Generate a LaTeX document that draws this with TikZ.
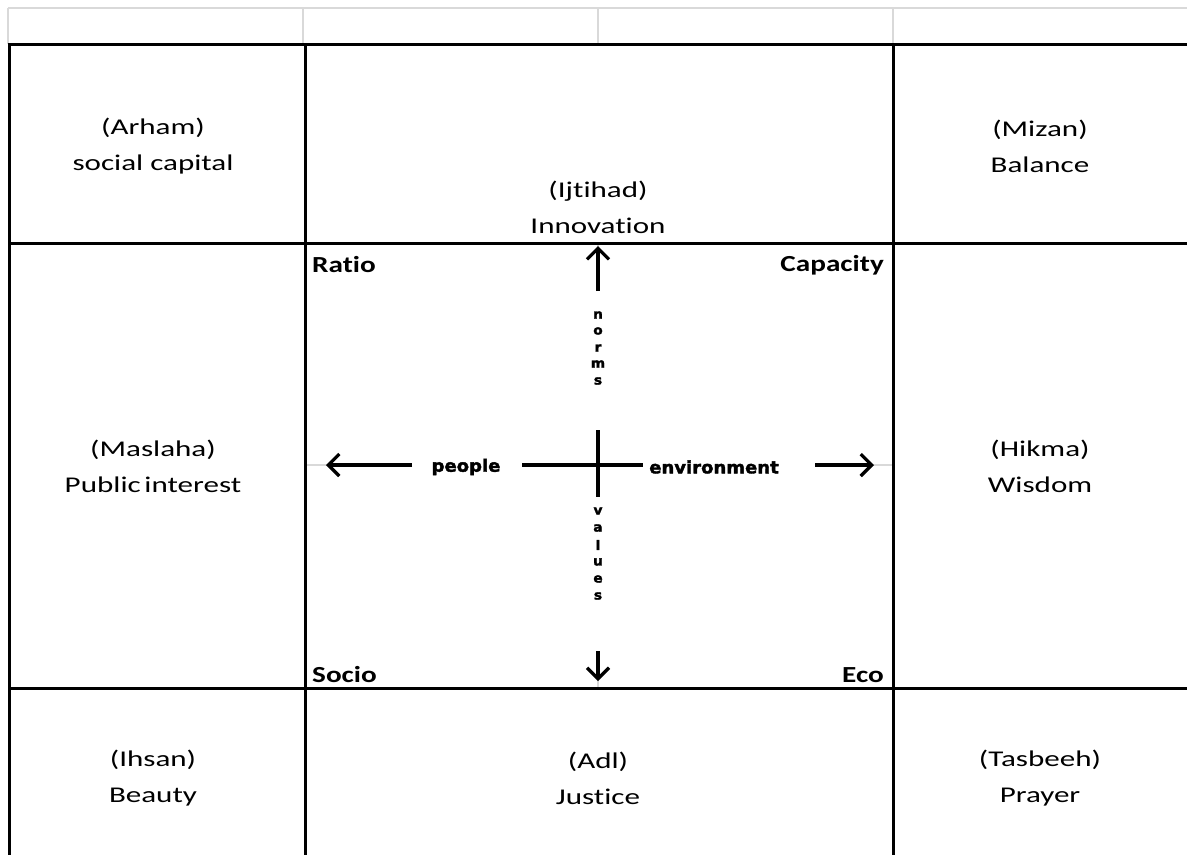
\documentclass[tikz,border=0pt]{standalone}
\usepackage{fontspec}
\setmainfont{Carlito}[FakeStretch=1.38,Ligatures=NoCommon]
\newfontfamily\cornerfont{Carlito}[FakeStretch=1.27,Ligatures=NoCommon]
\newfontfamily\axfont{DejaVu Sans}[UprightFont=* Bold,UprightFeatures={FakeBold=2.2},FakeStretch=1.06]
\usetikzlibrary{arrows.meta}
\begin{document}
\begin{tikzpicture}[x=1pt,y=-1pt,
  blackline/.style={draw=black,line width=3pt},
  grayline/.style={draw=black!15,line width=1.6pt},
  celltext/.style={font=\fontsize{22.5}{36}\selectfont,align=center,inner sep=0pt},
  cornertext/.style={font=\cornerfont\bfseries\fontsize{23}{28}\selectfont,inner sep=0pt},
  axtext/.style={font=\axfont\fontsize{17}{20}\selectfont,inner sep=0pt},
  lettertext/.style={font=\axfont\fontsize{13}{15}\selectfont,inner sep=0pt},
  axisarrow/.style={line width=3.4pt,-{Straight Barb[length=11pt,width=22pt,line width=3.2pt]}},
  axisline/.style={line width=3.4pt}]
\useasboundingbox (0,0) rectangle (1187,855);
\fill[white] (0,0) rectangle (1187,855);
% spreadsheet gridlines
\draw[grayline] (8,8) -- (1187,8);
\draw[grayline] (8,8) -- (8,44);
\draw[grayline] (303,8) -- (303,44);
\draw[grayline] (598,8) -- (598,44);
\draw[grayline] (893,8) -- (893,44);
\draw[grayline] (305,465) -- (332,465);
\draw[grayline] (868,465) -- (893,465);
\draw[grayline] (598,243) -- (598,252);
\draw[grayline] (598,676) -- (598,688);
% black table lines
\draw[blackline] (8,44) -- (1187,44);
\draw[blackline] (8,243) -- (1187,243);
\draw[blackline] (8,688) -- (1187,688);
\draw[blackline] (9,44) -- (9,855);
\draw[blackline] (305,44) -- (305,855);
\draw[blackline] (893,44) -- (893,855);
% cell texts
\node[celltext] (arham) at (153,146) {(Arham)\\social capital};
\node[celltext] (ijtihad) at (598,207) {(Ijtihad)\\Innovation};
\node[celltext] (mizan) at (1040,146) {(Mizan)\\Balance};
\node[celltext] (maslaha) at (153,466) {(Maslaha)\\Public\,interest};
\node[celltext] (hikma) at (1040,466) {(Hikma)\\Wisdom};
\node[celltext] (ihsan) at (153,778) {(Ihsan)\\Beauty};
\node[celltext] (adl) at (598,778) {(Adl)\\Justice};
\node[celltext] (tasbeeh) at (1040,778) {(Tasbeeh)\\Prayer};
% corner labels
\node[cornertext,anchor=west] (ratio) at (312,265) {Ratio};
\node[cornertext,anchor=east] (capacity) at (884,265) {Capacity};
\node[cornertext,anchor=west] (socio) at (312,675) {Socio};
\node[cornertext,anchor=east] (eco) at (884,675) {Eco};
% axis coordinates
\coordinate (upS) at (598,291);
\coordinate (upT) at (598,246);
\coordinate (dnS) at (598,651);
\coordinate (dnT) at (598,681);
\coordinate (lfS) at (412,465);
\coordinate (lfT) at (326,465);
\coordinate (rtS) at (815,465);
\coordinate (rtT) at (874,465);
\coordinate (hA) at (522,465);
\coordinate (hB) at (643,465);
\coordinate (vA) at (598,430);
\coordinate (vB) at (598,497);
\draw[axisarrow] (upS) -- (upT);
\draw[axisarrow] (dnS) -- (dnT);
\draw[axisarrow] (lfS) -- (lfT);
\draw[axisarrow] (rtS) -- (rtT);
\draw[axisline] (hA) -- (hB);
\draw[axisline] (vA) -- (vB);
% axis labels
\node[axtext] (people) at (466,467) {people};
\node[axtext] (environment) at (714,467) {environment};
\node[lettertext] (n1) at (598,315) {n};
\node[lettertext] (n2) at (598,331) {o};
\node[lettertext] (n3) at (598,348) {r};
\node[lettertext] (n4) at (598,364) {m};
\node[lettertext] (n5) at (598,381) {s};
\node[lettertext] (v1) at (598,511) {v};
\node[lettertext] (v2) at (598,528) {a};
\node[lettertext] (v3) at (598,545) {l};
\node[lettertext] (v4) at (598,562) {u};
\node[lettertext] (v5) at (598,579) {e};
\node[lettertext] (v6) at (598,596) {s};
\end{tikzpicture}
\end{document}
